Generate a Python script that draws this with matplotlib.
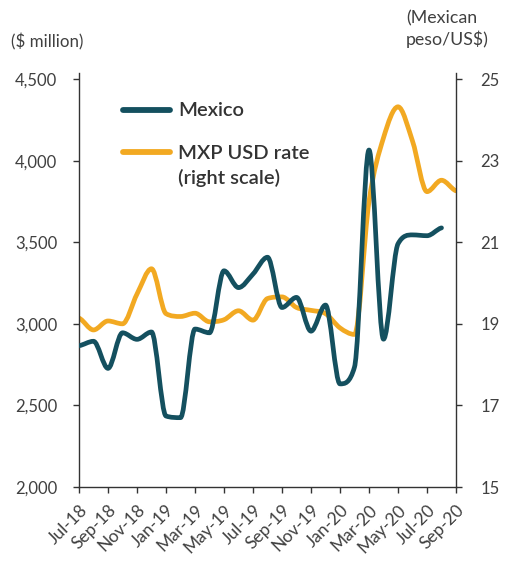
import matplotlib
matplotlib.use("Agg")
import matplotlib.pyplot as plt
from matplotlib.path import Path
from matplotlib.patches import PathPatch
from matplotlib.lines import Line2D
import matplotlib.transforms as mtransforms
import numpy as np

plt.rcParams['font.family'] = ['Lato', 'DejaVu Sans']

months = ["Jul-18", "Aug-18", "Sep-18", "Oct-18", "Nov-18", "Dec-18",
          "Jan-19", "Feb-19", "Mar-19", "Apr-19", "May-19", "Jun-19",
          "Jul-19", "Aug-19", "Sep-19", "Oct-19", "Nov-19", "Dec-19",
          "Jan-20", "Feb-20", "Mar-20", "Apr-20", "May-20", "Jun-20",
          "Jul-20", "Aug-20", "Sep-20"]

mexico = [2866, 2893, 2727, 2945, 2905, 2950,
          2435, 2425, 2968, 2945, 3325, 3222,
          3305, 3408, 3100, 3162, 2955, 3115,
          2632, 2735, 4065, 2906, 3490, 3545,
          3540, 3588, None]

mxp_usd = [19.14, 18.85, 19.07, 19.00, 19.73, 20.35,
           19.25, 19.18, 19.26, 19.05, 19.10, 19.32,
           19.09, 19.62, 19.66, 19.40, 19.33, 19.25,
           18.90, 18.74, 22.00, 23.56, 24.32, 23.48,
           22.24, 22.52, 22.26]

tick_labels = months[::2]
left_ticks = [2000, 2500, 3000, 3500, 4000, 4500]
right_ticks = [15, 17, 19, 21, 23, 25]

TEAL = "#14505F"
ORANGE = "#F2A922"
SPINE = "#333333"
TXT = "#404040"


def smooth_path(xs, ys):
    """Smooth cubic Bezier through the points, tangents limited to avoid overshoot."""
    pts = np.array([(x, y) for x, y in zip(xs, ys) if y is not None], dtype=float)
    px, py = pts[:, 0], pts[:, 1]
    n = len(pts)
    d = np.diff(py) / np.diff(px)
    m = np.zeros(n)
    m[0] = d[0] / 2
    m[-1] = d[-1] / 2
    for i in range(1, n - 1):
        if d[i - 1] * d[i] <= 0:
            m[i] = 0.0
        else:
            mi = (d[i - 1] + d[i]) / 2
            lim = 3 * min(abs(d[i - 1]), abs(d[i]))
            m[i] = np.sign(mi) * min(abs(mi), lim)
    verts = [(px[0], py[0])]
    codes = [Path.MOVETO]
    for i in range(n - 1):
        h = px[i + 1] - px[i]
        verts += [(px[i] + h / 3, py[i] + m[i] * h / 3),
                  (px[i + 1] - h / 3, py[i + 1] - m[i + 1] * h / 3),
                  (px[i + 1], py[i + 1])]
        codes += [Path.CURVE4] * 3
    return Path(verts, codes)


fig = plt.figure(figsize=(5.08, 5.64), dpi=100)
ax_top_px = 72.7
ax = fig.add_axes([79 / 508, 1 - 487 / 564, (456 - 79) / 508,
                   (487 - ax_top_px) / 564])
ax2 = ax.twinx()

x = np.arange(len(months))

ax.add_patch(PathPatch(smooth_path(x, mexico), fill=False, edgecolor=TEAL,
                       lw=3.4, capstyle='round', joinstyle='round', zorder=3))
ax2.add_patch(PathPatch(smooth_path(x, mxp_usd), fill=False, edgecolor=ORANGE,
                        lw=3.4, capstyle='round', joinstyle='round', zorder=2))
ax.set_zorder(ax2.get_zorder() + 1)
ax.patch.set_visible(False)

ax.set_xlim(0, len(months) - 1)
ax.set_ylim(2000, 4539)
ax2.set_ylim(15, 25.156)

ax.set_yticks(left_ticks)
ax.set_yticklabels([f"{v:,}" for v in left_ticks])
ax2.set_yticks(right_ticks)
ax.set_xticks(x[::2])
ax.set_xticklabels(tick_labels, rotation=45, ha='right', va='top',
                   rotation_mode='anchor')
shift = mtransforms.ScaledTranslation(5 / 100, -3 / 100, fig.dpi_scale_trans)
for lbl in ax.get_xticklabels():
    lbl.set_transform(lbl.get_transform() + shift)

for a in (ax, ax2):
    a.spines['top'].set_visible(False)
    for s in ('left', 'right', 'bottom'):
        a.spines[s].set_color(SPINE)
        a.spines[s].set_linewidth(1.0)
ax.spines['right'].set_visible(False)
ax2.spines['left'].set_visible(False)
ax2.spines['bottom'].set_visible(False)

ax.tick_params(axis='y', direction='out', length=4.5, width=1.0, color=SPINE,
               labelsize=12, labelcolor=TXT, pad=11)
ax.tick_params(axis='x', direction='out', length=4.5, width=1.0, color=SPINE,
               labelsize=12.5, labelcolor=TXT, pad=6)
ax2.tick_params(axis='y', direction='out', length=4.5, width=1.0, color=SPINE,
                labelsize=12, labelcolor=TXT, pad=13)

fig.text(11 / 508, 1 - 42 / 564, "($ million)", fontsize=12.2, color=TXT,
         ha='left', va='center')
fig.text(406 / 508, 1 - 29 / 564, "(Mexican\npeso/US$)", fontsize=12.8,
         color=TXT, ha='left', va='center', linespacing=1.25)

# legend (drawn in axes coordinates)
H = 487 - ax_top_px


def ax_y(py):
    return (487 - py) / H


def ax_x(px):
    return (px - 79) / 377


leg_font = dict(fontsize=14.5, fontweight='semibold', color="#333333",
                transform=ax.transAxes, ha='left', va='baseline')
ax.add_line(Line2D([ax_x(123), ax_x(170)], [ax_y(110), ax_y(110)],
                   transform=ax.transAxes, color=TEAL, lw=4.2,
                   solid_capstyle='round'))
ax.add_line(Line2D([ax_x(123), ax_x(170)], [ax_y(152), ax_y(152)],
                   transform=ax.transAxes, color=ORANGE, lw=4.2,
                   solid_capstyle='round'))
ax.text(ax_x(178), ax_y(115.5), "Mexico", **leg_font)
ax.text(ax_x(178), ax_y(159), "MXP USD rate", **leg_font)
ax.text(ax_x(178), ax_y(184), "(right scale)", **leg_font)

fig.savefig("out.png", dpi=100)
